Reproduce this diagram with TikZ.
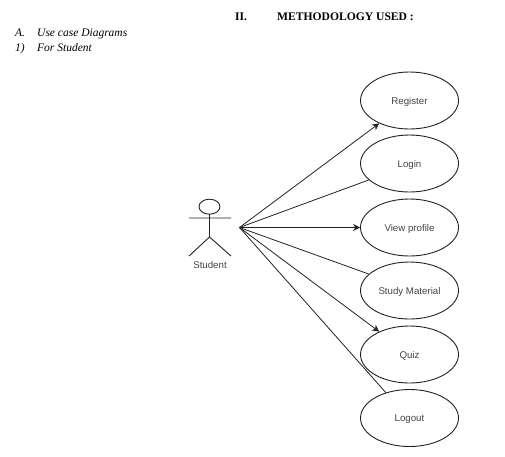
\documentclass[tikz,border=0pt]{standalone}
\usepackage{fontspec}
\setmainfont{Liberation Serif}
\newfontfamily\diagfont{Liberation Sans}
\usetikzlibrary{shapes.geometric,arrows.meta}
\definecolor{ink}{HTML}{222222}
\tikzset{
  usecase/.style={ellipse,draw=ink,line width=0.9pt,minimum width=98pt,minimum height=57pt,inner sep=0pt,
    text height=7.5pt,text depth=0pt,
    font=\diagfont\fontsize{9.7}{11}\selectfont,text=ink!85!white},
  assoc/.style={draw=ink,line width=0.8pt},
  nav/.style={assoc,-{Stealth[length=7pt,width=7pt]}},
  stick/.style={draw=ink,line width=0.9pt},
  doctext/.style={anchor=base west,inner sep=0pt,text=black},
  head/.style={doctext,font=\bfseries\fontsize{11.6}{13}\selectfont},
  sub/.style={doctext,font=\itshape\fontsize{11.5}{13}\selectfont}
}
\begin{document}
\begin{tikzpicture}[x=1pt,y=-1pt]
\useasboundingbox (0,0) rectangle (505,456);
\node[head] (sec) at (235,20.5) {II.};
\node[head] (title) at (277,20.5) {METHODOLOGY USED :};
\node[sub] (a) at (15,36) {A.};
\node[sub] (at) at (37,36) {Use case Diagrams};
\node[sub] (n) at (15,51.5) {1)};
\node[sub] (nt) at (37,51.5) {For Student};

\node[usecase] (reg) at (409.5,100.5) {Register};
\node[usecase] (log) at (409.5,163.5) {Login};
\node[usecase] (view) at (409.5,227.5) {View profile};
\node[usecase] (study) at (409.5,290.5) {Study Material};
\node[usecase] (quiz) at (409.5,354.5) {Quiz};
\node[usecase] (out) at (409.5,418) {Logout};

\draw[stick] (209.5,206.7) ellipse [x radius=10.5pt,y radius=7.5pt];
\coordinate (neck) at (209.5,214.2);
\coordinate (hip) at (209.5,237);
\coordinate (armL) at (189,218);
\coordinate (armR) at (231,218);
\coordinate (footL) at (189,256);
\coordinate (footR) at (231,256);
\draw[stick] (neck) -- (hip) (armL) -- (armR) (footL) -- (hip) -- (footR);
\node[font=\diagfont\fontsize{9.7}{11}\selectfont,text=ink!85!white,inner sep=0pt] (student) at (210,265.5) {Student};

\coordinate (hub) at (239.5,227.5);
\draw[nav] (hub) -- (reg.217.6);
\draw[assoc] (hub) -- (log.202.4);
\draw[nav] (hub) -- (view.west);
\draw[assoc] (hub) -- (study.158.8);
\draw[nav] (hub) -- (quiz.143.6);
\draw[assoc] (hub) -- (out.133.2);
\end{tikzpicture}
\end{document}
